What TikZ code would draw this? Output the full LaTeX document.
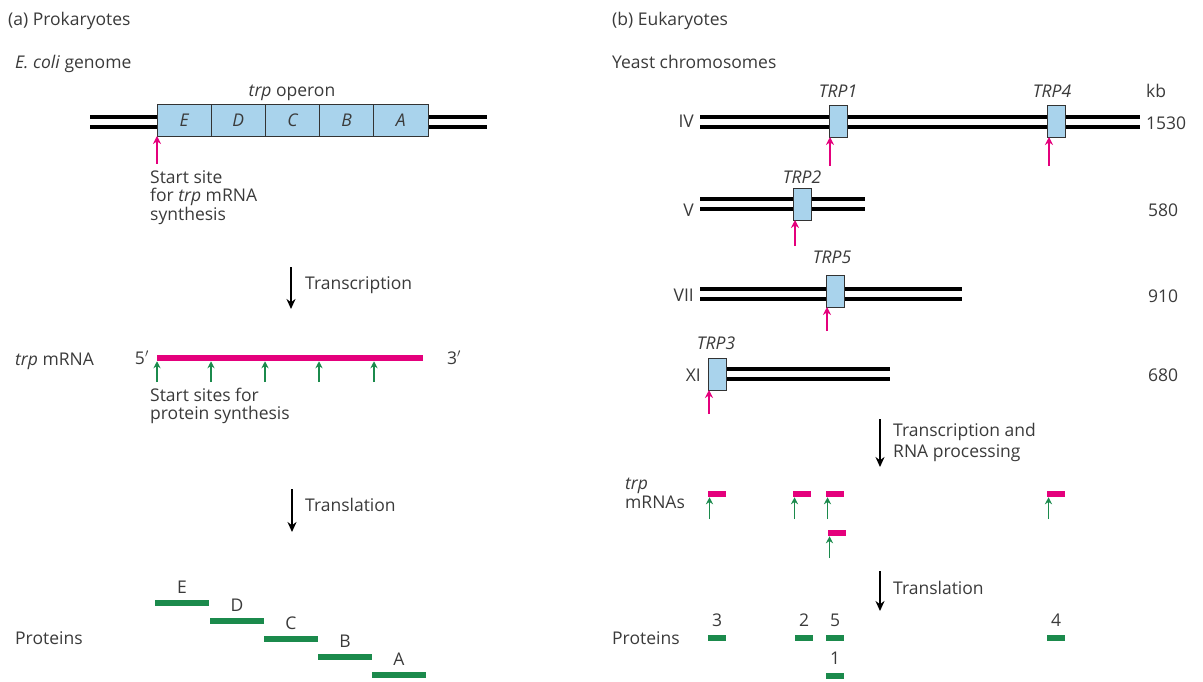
\documentclass[tikz,border=0pt]{standalone}
\usepackage{fontspec}
\setmainfont{Open Sans}
\usetikzlibrary{arrows.meta}
\definecolor{genefill}{HTML}{A9D3EC}
\definecolor{rnapink}{HTML}{E4007C}
\definecolor{protgreen}{HTML}{1B8A4C}
\definecolor{txt}{HTML}{3A3A3A}
\begin{document}
\begin{tikzpicture}[x=1pt,y=-1pt,
  font=\fontsize{17.5}{19}\selectfont, text=txt,
  lbl/.style={anchor=base west, inner sep=0pt},
  clbl/.style={anchor=base, inner sep=0pt},
  glbl/.style={anchor=base, inner sep=0pt, font=\fontsize{17.5}{19}\selectfont\itshape},
  dna/.style={draw=black, line width=3.6pt, double=white, double distance=6pt},
  gene/.style={draw=black!80, line width=0.8pt, fill=genefill, inner sep=0pt, outer sep=0pt,
               minimum height=32pt, font=\fontsize{17.5}{19}\selectfont\itshape},
  sgene/.style={gene, minimum width=18pt},
  pinkup/.style={draw=rnapink, line width=1.8pt, -{Stealth[length=8pt,width=8pt]}},
  greenup/.style={draw=protgreen, line width=1.6pt, -{Stealth[length=7pt,width=7pt]}},
  bigarrow/.style={draw=black, line width=2.4pt, -{Stealth[length=10pt,width=9pt]}},
  mrna/.style={fill=rnapink, inner sep=0pt, outer sep=0pt, minimum height=6.5pt},
  prot/.style={fill=protgreen, inner sep=0pt, outer sep=0pt, minimum height=6pt}]
\useasboundingbox (0,0) rectangle (1203,682);

% ---------------- (a) Prokaryotes ----------------
\node[lbl] (titleA) at (8,26) {(a) Prokaryotes};
\node[lbl] (ecoli) at (15,69) {\textit{E. coli} genome};

\coordinate (dnaL1) at (90,122);
\coordinate (dnaL2) at (487,122);
\draw[dna] (dnaL1) -- (dnaL2);

\node[gene, minimum width=54.2pt] (gE) at (184.1,120) {E};
\node[gene, minimum width=54.2pt, anchor=west] (gD) at (gE.east) {D};
\node[gene, minimum width=54.2pt, anchor=west] (gC) at (gD.east) {C};
\node[gene, minimum width=54.2pt, anchor=west] (gB) at (gC.east) {B};
\node[gene, minimum width=54.2pt, anchor=west] (gA) at (gB.east) {A};
\node[clbl] (operon) at (292,97) {\textit{trp} operon};

\coordinate (ps) at (157,164);
\draw[pinkup] (ps) -- (ps |- gE.south);
\node[lbl] (startA1) at (150,183) {Start site};
\node[lbl] (startA2) at (150,201.5) {for \textit{trp} mRNA};
\node[lbl] (startA3) at (150,220) {synthesis};

\coordinate (tA1) at (291,267);
\coordinate (tA2) at (291,309);
\draw[bigarrow] (tA1) -- (tA2);
\node[lbl] (transA) at (305,289) {Transcription};

\node[lbl] (trpmrna) at (15,365) {\textit{trp} mRNA};
\node[mrna, minimum width=266pt] (mA) at (290,358) {};
\node[lbl, anchor=base east] (fiveA) at (149,364) {5$'$};
\node[lbl] (threeA) at (447,364) {3$'$};

\foreach \i/\x in {1/157,2/211,3/265,4/319,5/374}{
  \coordinate (gs\i) at (\x,382);
  \draw[greenup] (gs\i) -- (gs\i |- mA.south);
}
\node[lbl] (startsA1) at (150,401) {Start sites for};
\node[lbl] (startsA2) at (150,419) {protein synthesis};

\coordinate (lA1) at (292,489);
\coordinate (lA2) at (292,532);
\draw[bigarrow] (lA1) -- (lA2);
\node[lbl] (translA) at (305,511) {Translation};

\node[lbl] (protA) at (15,644) {Proteins};
\foreach \n/\x/\y in {E/182/603,D/237/621,C/291/639,B/345/657,A/399/675}{
  \node[prot, minimum width=54pt] (p\n) at (\x,\y) {};
  \node[clbl] at ([yshift=9.5pt]p\n.center) {\n};
}

% ---------------- (b) Eukaryotes ----------------
\node[lbl] (titleB) at (612,26) {(b) Eukaryotes};
\node[lbl] (yeast) at (612,69) {Yeast chromosomes};
\node[lbl] (kb) at (1146,98) {kb};

% chromosome IV
\coordinate (c4L) at (700,122);
\coordinate (c4R) at (1140,122);
\draw[dna] (c4L) -- (c4R);
\node[sgene] (trp1) at (838,121) {};
\node[sgene] (trp4) at (1056,121) {};
\node[lbl, anchor=base east] (c4) at (694,128) {IV};
\node[lbl] (kb4) at (1146,130) {1530};
\node[glbl] at (838,98) {TRP1};
\node[glbl] at (1052,98) {TRP4};
\coordinate (a1) at (830,166);
\draw[pinkup] (a1) -- (a1 |- trp1.south);
\coordinate (a4) at (1049,166);
\draw[pinkup] (a4) -- (a4 |- trp4.south);

% chromosome V
\coordinate (c5L) at (700,204);
\coordinate (c5R) at (865,204);
\draw[dna] (c5L) -- (c5R);
\node[sgene] (trp2) at (802,204) {};
\node[lbl, anchor=base east] (c5) at (694,216) {V};
\node[lbl] (kb5) at (1148,216) {580};
\node[glbl] at (802,184) {TRP2};
\coordinate (a2) at (795,246);
\draw[pinkup] (a2) -- (a2 |- trp2.south);

% chromosome VII
\coordinate (c7L) at (700,294);
\coordinate (c7R) at (962,294);
\draw[dna] (c7L) -- (c7R);
\node[sgene] (trp5) at (835,291) {};
\node[lbl, anchor=base east] (c7) at (694,301) {VII};
\node[lbl] (kb7) at (1148,302) {910};
\node[glbl] at (832,263) {TRP5};
\coordinate (a5) at (827,331);
\draw[pinkup] (a5) -- (a5 |- trp5.south);

% chromosome XI
\coordinate (c11L) at (717,374);
\coordinate (c11R) at (890,374);
\draw[dna] (c11L) -- (c11R);
\node[sgene] (trp3) at (717,374) {};
\node[lbl, anchor=base east] (c11) at (701,381) {XI};
\node[lbl] (kb11) at (1148,381) {680};
\node[glbl] at (716,349) {TRP3};
\coordinate (a3) at (709,414);
\draw[pinkup] (a3) -- (a3 |- trp3.south);

% transcription and processing
\coordinate (tB1) at (880,419);
\coordinate (tB2) at (880,467);
\draw[bigarrow] (tB1) -- (tB2);
\node[lbl] (transB1) at (893,436) {Transcription and};
\node[lbl] (transB2) at (893,457) {RNA processing};

% individual mRNAs
\node[lbl] (mrnas1) at (625,489) {\textit{trp}};
\node[lbl] (mrnas2) at (625,508) {mRNAs};
\foreach \k/\x/\y in {3/717/494,2/802/494,5/835/494,4/1056/494,1/837/533}{
  \node[mrna, minimum width=18pt] (m\k) at (\x,\y) {};
  \coordinate (ms\k) at ([xshift=1.5pt]m\k.south west |- 0,\y+25);
  \draw[greenup] (ms\k) -- (ms\k |- m\k.south);
}

% translation
\coordinate (lB1) at (880,571);
\coordinate (lB2) at (880,611);
\draw[bigarrow] (lB1) -- (lB2);
\node[lbl] (translB) at (893,594) {Translation};

% proteins
\node[lbl] (protB) at (612,644) {Proteins};
\foreach \k/\x/\y in {3/717/638,2/804/638,5/835/638,4/1056/638,1/835/676}{
  \node[prot, minimum width=18pt] (q\k) at (\x,\y) {};
  \node[clbl] at ([yshift=11.5pt]q\k.center) {\k};
}
\end{tikzpicture}
\end{document}
